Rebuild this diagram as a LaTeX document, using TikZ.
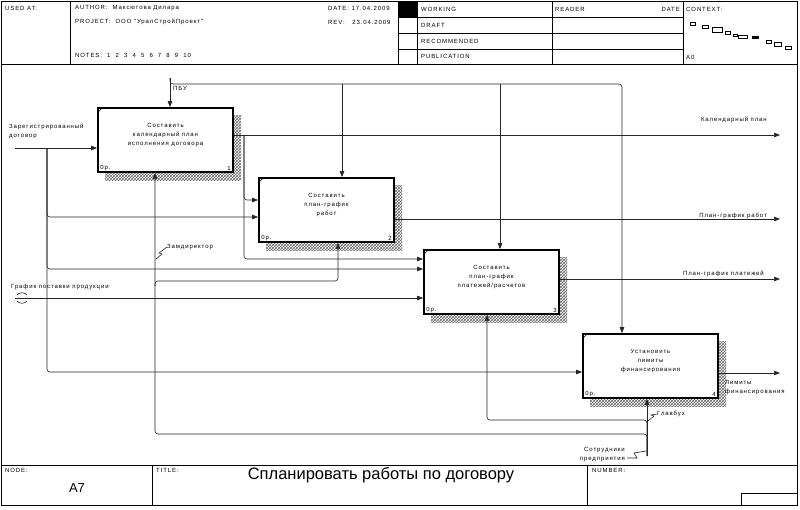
\documentclass[tikz,border=0pt]{standalone}
\usepackage{fontspec}
\setmainfont{Liberation Sans}
\newfontfamily\idef[LetterSpace=15]{Liberation Sans}
\usetikzlibrary{arrows.meta,patterns,positioning,calc}

\begin{document}
\begin{tikzpicture}[
x=1pt,y=-1pt,
lbl/.style={font=\idef\fontsize{6}{9}\selectfont, inner sep=0pt},
procbox/.style={
  draw,
  line width=1.7pt,
  fill=white,
  minimum width=135pt,
  minimum height=64pt,
  inner sep=0pt
  },
hatch/.style={pattern=crosshatch, pattern color=black!60},
arr/.style={draw=black!85, line width=0.6pt, rounded corners=3pt,
  -{Triangle[length=6pt,width=4.5pt]}},
ln/.style={draw=black!85, line width=0.6pt},
frame/.style={draw, line width=0.7pt}
]
\useasboundingbox (0,0) rectangle (800,509);
% frame and form
\draw[frame] (1,1) rectangle (797,505);
\draw[frame] (1,64) -- (797,64);
\draw[frame] (1,465) -- (797,465);
\foreach \xx in {70,398,417,552,683}
  \draw[frame] (\xx,1) -- (\xx,64);
\foreach \yy in {17,33,49}
  \draw[frame] (398,\yy) -- (683,\yy);
\fill (398,1) rectangle (417,17);
\foreach \xx in {152,587}
  \draw[frame] (\xx,465) -- (\xx,505);
\draw[frame] (741,505) |- (797,493);
% header texts
\node[lbl,anchor=west] (usedat) at (5,8) {USED AT:};
\node[lbl,anchor=west] (author) at (75,8) {AUTHOR:\ \ Максютова Дилара};
\node[lbl,anchor=west] (project) at (75,22) {PROJECT:\ \ ООО "УралСтройПроект"};
\node[lbl,anchor=west] (notes) at (75,55) {NOTES:\ \ 1\ \ 2\ \ 3\ \ 4\ \ 5\ \ 6\ \ 7\ \ 8\ \ 9\ \ 10};
\node[lbl,anchor=west] (date) at (328,8) {DATE: 17.04.2009};
\node[lbl,anchor=west] (rev) at (328,22) {REV:\ \ \ 23.04.2009};
\node[lbl,anchor=west] (working) at (421,9) {WORKING};
\node[lbl,anchor=west] (draft) at (421,25) {DRAFT};
\node[lbl,anchor=west] (recom) at (421,41) {RECOMMENDED};
\node[lbl,anchor=west] (public) at (421,56) {PUBLICATION};
\node[lbl,anchor=west] (reader) at (555,9) {READER};
\node[lbl,anchor=east] (rdate) at (680,9) {DATE};
\node[lbl,anchor=west] (context) at (686,9) {CONTEXT:};
\node[lbl,anchor=west] (ctxnode) at (686,57) {A0};
\foreach \a/\b/\c/\d in {690/22/695/25,702/25/708/28,712/27/722/32,725/31/730/34,
  733/34/737/36,738/35/747/38,766/40/771/43,774/42/781/46,785/46/791/49}
  \draw[line width=0.4pt] (\a,\b) rectangle (\c,\d);
\fill (752,36) rectangle (759,39);
% footer texts
\node[lbl,anchor=west] (nodelbl) at (5,470) {NODE:};
\node[lbl,anchor=west] (titlelbl) at (156,470) {TITLE:};
\node[lbl,anchor=west] (numlbl) at (592,470) {NUMBER:};
\node[font=\fontsize{13}{15}\selectfont] (nodeno) at (77,488) {A7};
\node[font=\fontsize{16.5}{19}\selectfont] (title) at (381,475) {Спланировать работы по договору};
% activity boxes
\foreach \n/\x/\y/\t in {1/165.5/140/{Составить\\календарный план\\исполнения договора},
  2/326.5/210/{Составить\\план-график\\работ},
  3/491.5/282/{Составить\\план-график\\платежей/расчетов},
  4/650.5/366/{Установить\\лимиты\\финансирования}}
{
  \fill[hatch] (\x-60.5,\y-25) rectangle (\x+75.5,\y+40);
  \node[procbox] (b\n) at (\x,\y) {};
  \node[lbl,align=center] (t\n) at (\x,\y-5) {\t};
  \node[lbl,anchor=south west] (op\n) at ([shift={(3,-2)}]b\n.south west) {0р.};
  \node[lbl,anchor=south east] (k\n) at ([shift={(-3,-2)}]b\n.south east) {\n};
  \draw[line width=0.6pt] ([yshift=-6pt]b\n.north west) -- ([xshift=6pt]b\n.north west);
}
% inputs
\coordinate (dog) at (15,148);
\coordinate (dogbus) at (47,148);
\draw[arr] (dog) -- (dog -| b1.west);
\draw[arr] (dogbus) |- (b2.west |- 0,217);
\draw[arr] (dogbus) |- (b3.west |- 0,269);
\draw[arr] (dogbus) |- (b4.west |- 0,372);
\node[lbl,align=left,anchor=north west] (dogl) at (9,124) {Зарегистрированный\\договор};
\coordinate (grafik) at (15,298);
\draw[arr] (grafik) -- (grafik -| b3.west);
\draw[ln] (17,295) .. controls (19,292) and (25,292) .. (27,295);
\draw[ln] (17,301) .. controls (19,304) and (25,304) .. (27,301);
\node[lbl,anchor=west] (grafikl) at (11,287) {График поставки продукции};
% outputs
\coordinate (kal) at (780,135);
\coordinate (kalbus) at (244,135);
\draw[arr] (b1.east |- kal) -- (kal);
\draw[arr] (kalbus) |- (b2.west |- 0,200);
\draw[arr] (kalbus) |- (b3.west |- 0,259);
\node[lbl,anchor=base east] (kall) at (767,121) {Календарный план};
\coordinate (rab) at (780,219);
\draw[arr] (b2.east |- rab) -- (rab);
\node[lbl,anchor=base east] (rabl) at (767,217) {План-график работ};
\coordinate (plat) at (780,279);
\draw[arr] (b3.east |- plat) -- (plat);
\node[lbl,anchor=base east] (platl) at (764,275) {План-график платежей};
\coordinate (lim) at (780,373);
\draw[arr] (b4.east |- lim) -- (lim);
\node[lbl,align=left,anchor=north west] (liml) at (725,380) {Лимиты\\финансирования};
% controls
\coordinate (pbu) at (170,78);
\draw[arr] (pbu) -- (pbu |- b1.north);
\draw[arr] (pbu) |- (622,84) -- (622,84 |- b4.north);
\draw[arr] (342,84) -- (342,84 |- b2.north);
\draw[arr] (500,84) -- (500,84 |- b3.north);
\node[lbl,anchor=west] (pbul) at (173,88) {ПБУ};
% mechanisms
\coordinate (sotr) at (647,456);
\draw[arr] (sotr) -- (sotr |- b4.south);
\draw[arr] (sotr) |- (155,434) -- (155,434 |- b1.south);
\draw[arr] (sotr) |- (487,420) -- (487,420 |- b3.south);
\draw[arr] (155,286) |- (338,281) -- (338,281 |- b2.south);
\node[lbl,anchor=west] (zam) at (167,247) {Замдиректор};
\draw[ln] (156,259) -- (162,254) -- (159,253) -- (zam.west);
\node[lbl,anchor=west] (glav) at (657,414) {Главбух};
\draw[ln] (648,421) -- (654,416) -- (651,415) -- (glav.west);
\node[lbl,align=right,anchor=east] (sotrl) at (625,455) {Сотрудники\\предприятия};
\draw[ln] (627,458) -- (637,458) -- (634,453) -- (646,451);
\end{tikzpicture}
\end{document}
